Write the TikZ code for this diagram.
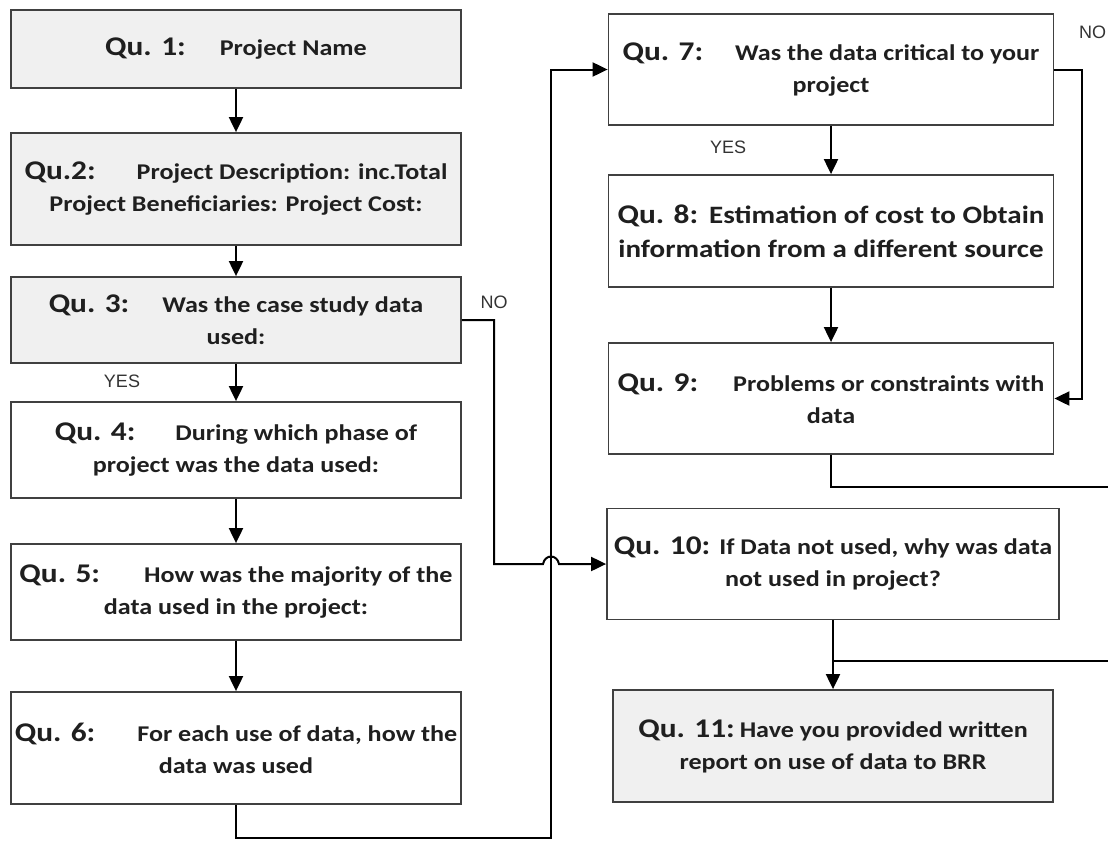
\documentclass[tikz,border=0pt]{standalone}
\usepackage{fontspec}
\setmainfont{Carlito}[FakeStretch=1.16]
\newfontfamily\arialf{Liberation Sans}
\usetikzlibrary{arrows.meta}
\newcommand\QuLbl[1]{{\fontsize{27}{32}\selectfont Qu.#1}}
\begin{document}
\begin{tikzpicture}[x=1pt,y=-1pt,
  box/.style={draw=black!75, line width=1.8pt, inner sep=0pt, align=center,
    text=black!88, font=\bfseries\fontsize{22.5}{32}\selectfont},
  gbox/.style={box, fill=black!6},
  wbox/.style={box, fill=white},
  lcol/.style={minimum width=450pt},
  rcol/.style={minimum width=445pt},
  conn/.style={line width=2pt, black},
  arr/.style={conn, -{Triangle[length=15pt,width=14pt]}},
  lbl/.style={font=\arialf\fontsize{18}{20}\selectfont, text=black!80, inner sep=0pt}]
\useasboundingbox (0,0) rectangle (1108,841);
\clip (0,0) rectangle (1108,841);
\fill[white] (0,0) rectangle (1108,841);

% left column
\node[gbox, lcol, minimum height=78pt] (b1) at (236,49)
  {\QuLbl{ 1:}\hspace{34pt}Project Name};
\node[gbox, lcol, minimum height=112pt] (b2) at (236,189)
  {\QuLbl{2:}\hspace{41pt}Project Description: inc.Total\\ Project Beneficiaries: Project Cost:};
\node[gbox, lcol, minimum height=86pt] (b3) at (236,320)
  {\QuLbl{ 3:}\hspace{33pt}Was the case study data\\ used:};
\node[wbox, lcol, minimum height=96pt] (b4) at (236,450)
  {\QuLbl{ 4:}\hspace{40pt}During which phase of\\ project was the data used:};
\node[wbox, lcol, minimum height=96pt] (b5) at (236,592)
  {\QuLbl{ 5:}\hspace{44pt}How was the majority of the\\ data used in the project:};
\node[wbox, lcol, minimum height=112pt] (b6) at (236,748)
  {\QuLbl{ 6:}\hspace{42pt}For each use of data, how the\\ data was used};

% right column
\node[wbox, rcol, minimum height=111pt] (b7) at (831,69.5)
  {\QuLbl{ 7:}\hspace{32pt}Was the data critical to your\\ project};
\node[wbox, rcol, minimum height=112pt, font=\bfseries\fontsize{25}{34}\selectfont] (b8) at (831,231)
  {\QuLbl{ 8:}\hspace{11pt}Estimation of cost to Obtain\\ information from a different source};
\node[wbox, rcol, minimum height=111pt] (b9) at (831,398.5)
  {\QuLbl{ 9:}\hspace{35pt}Problems or constraints with\\ data};
\node[wbox, minimum width=452pt, minimum height=111pt] (b10) at (833,564)
  {\QuLbl{ 10:}\hspace{9pt}If Data not used, why was data\\ not used in project?};
\node[gbox, minimum width=440pt, minimum height=112pt] (b11) at (833,746)
  {\QuLbl{ 11:}\hspace{5pt}Have you provided written\\ report on use of data to BRR};

% labels
\node[lbl] (yes1) at (122,381) {YES};
\node[lbl] (no1) at (494,302) {NO};
\node[lbl] (yes2) at (728,147) {YES};
\node[lbl, anchor=west] (no2) at (1079,32) {NO};

% coordinates
\coordinate (n1) at (494,320);
\coordinate (h1) at (543,564);
\coordinate (h2) at (559,564);
\coordinate (c6) at (551,838);
\coordinate (c7) at (551,69.5);
\coordinate (r7) at (1082,69.5);
\coordinate (rt1) at (1109.5,487);
\coordinate (rt2) at (1109.5,661);
\coordinate (j) at (833,661);

% left chain
\draw[arr] (b1) -- (b2);
\draw[arr] (b2) -- (b3);
\draw[arr] (b3) -- (b4);
\draw[arr] (b4) -- (b5);
\draw[arr] (b5) -- (b6);

% Qu6 -> Qu7
\draw[arr] (b6.south) |- (c6) -- (c7) -- (b7.west);
% Qu3 NO -> Qu10 with hop
\draw[arr] (b3.east) -- (n1) |- (h1) .. controls (545,554) and (557,554) .. (h2) -- (b10.west);

% right chain
\draw[arr] (b7) -- (b8);
\draw[arr] (b8) -- (b9);
\draw[arr] (b7.east) -- (r7) |- (b9.east);
\draw[conn] (b9.south) |- (rt1) -- (rt2) -- (j);
\draw[arr] (b10.south) -- (b11.north);
\end{tikzpicture}
\end{document}
